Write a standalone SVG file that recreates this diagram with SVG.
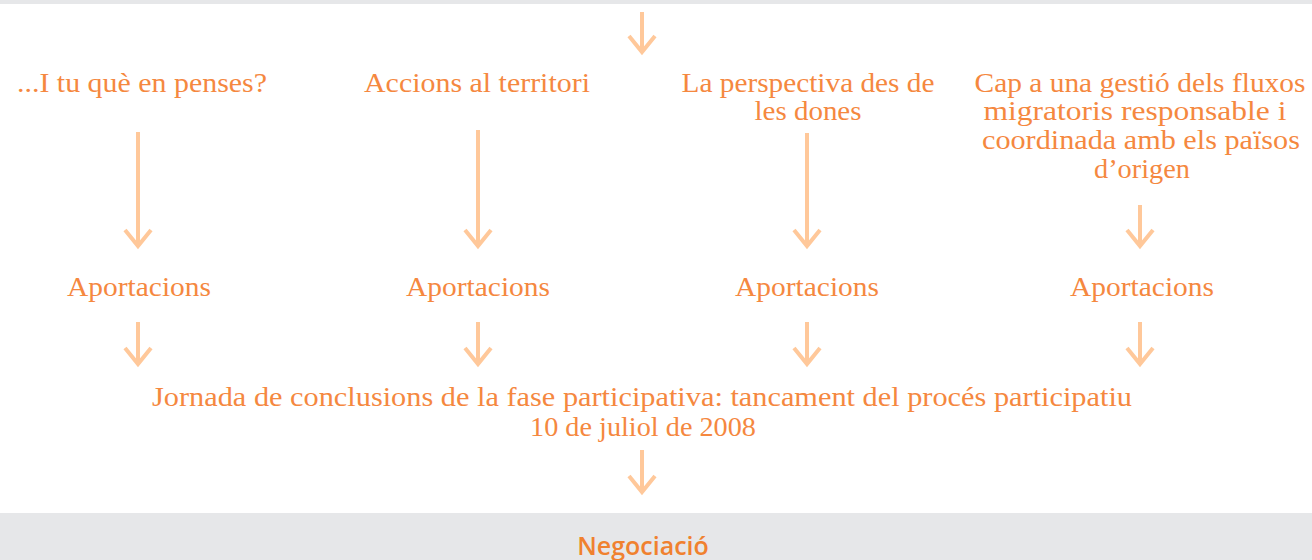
<svg xmlns="http://www.w3.org/2000/svg" width="1312" height="560" viewBox="0 0 1312 560">
<style>
.t{font-family:"Liberation Serif","DejaVu Serif",serif;font-size:27px;fill:#F5883F;text-anchor:middle}
.s{font-family:"Open Sans","Noto Sans","Liberation Sans",sans-serif;font-size:25px;font-weight:600;fill:#F0812F;text-anchor:middle}
.a{stroke:#FFC89A;stroke-width:4;fill:none}
</style>
<defs>
<path id="hd" d="M-13,-16 L0,0 L13,-16" stroke="#FFC89A" stroke-width="4" fill="none"/>
</defs>
<rect x="0" y="0" width="1312" height="4" fill="#E6E7E9"/>
<rect x="0" y="513" width="1312" height="47" fill="#E6E7E9"/>
<g id="connectors">
<line class="a" x1="642" y1="12" x2="642" y2="52"/><use href="#hd" x="642" y="52"/>
<line class="a" x1="138" y1="132" x2="138" y2="246"/><use href="#hd" x="138" y="246"/>
<line class="a" x1="478" y1="130" x2="478" y2="246"/><use href="#hd" x="478" y="246"/>
<line class="a" x1="807" y1="133" x2="807" y2="246"/><use href="#hd" x="807" y="246"/>
<line class="a" x1="1140" y1="205" x2="1140" y2="246"/><use href="#hd" x="1140" y="246"/>
<line class="a" x1="138" y1="322" x2="138" y2="364"/><use href="#hd" x="138" y="364"/>
<line class="a" x1="478" y1="322" x2="478" y2="364"/><use href="#hd" x="478" y="364"/>
<line class="a" x1="807" y1="322" x2="807" y2="364"/><use href="#hd" x="807" y="364"/>
<line class="a" x1="1140" y1="322" x2="1140" y2="364"/><use href="#hd" x="1140" y="364"/>
<line class="a" x1="642" y1="450" x2="642" y2="492"/><use href="#hd" x="642" y="492"/>
</g>
<g id="n1"><text class="t" x="142" y="92" textLength="250" lengthAdjust="spacingAndGlyphs">...I tu què en penses?</text></g>
<g id="n2"><text class="t" x="477" y="92" textLength="226" lengthAdjust="spacingAndGlyphs">Accions al territori</text></g>
<g id="n3"><text class="t" x="808" y="92" textLength="253" lengthAdjust="spacingAndGlyphs">La perspectiva des de</text><text class="t" x="808" y="120" textLength="107" lengthAdjust="spacingAndGlyphs">les dones</text></g>
<g id="n4"><text class="t" x="1140" y="92" textLength="331" lengthAdjust="spacingAndGlyphs">Cap a una gestió dels fluxos</text><text class="t" x="1135" y="120" textLength="303" lengthAdjust="spacingAndGlyphs">migratoris responsable i</text><text class="t" x="1141" y="149" textLength="318" lengthAdjust="spacingAndGlyphs">coordinada amb els països</text><text class="t" x="1142" y="178" textLength="96" lengthAdjust="spacingAndGlyphs">d’origen</text></g>
<g id="a1"><text class="t" x="139" y="296" textLength="144" lengthAdjust="spacingAndGlyphs">Aportacions</text></g>
<g id="a2"><text class="t" x="478" y="296" textLength="144" lengthAdjust="spacingAndGlyphs">Aportacions</text></g>
<g id="a3"><text class="t" x="807" y="296" textLength="144" lengthAdjust="spacingAndGlyphs">Aportacions</text></g>
<g id="a4"><text class="t" x="1142" y="296" textLength="144" lengthAdjust="spacingAndGlyphs">Aportacions</text></g>
<g id="j"><text class="t" x="642" y="406" textLength="980" lengthAdjust="spacingAndGlyphs">Jornada de conclusions de la fase participativa: tancament del procés participatiu</text><text class="t" x="643" y="436" textLength="226" lengthAdjust="spacingAndGlyphs">10 de juliol de 2008</text></g>
<g id="neg"><text class="s" x="643" y="555">Negociació</text></g>
</svg>
